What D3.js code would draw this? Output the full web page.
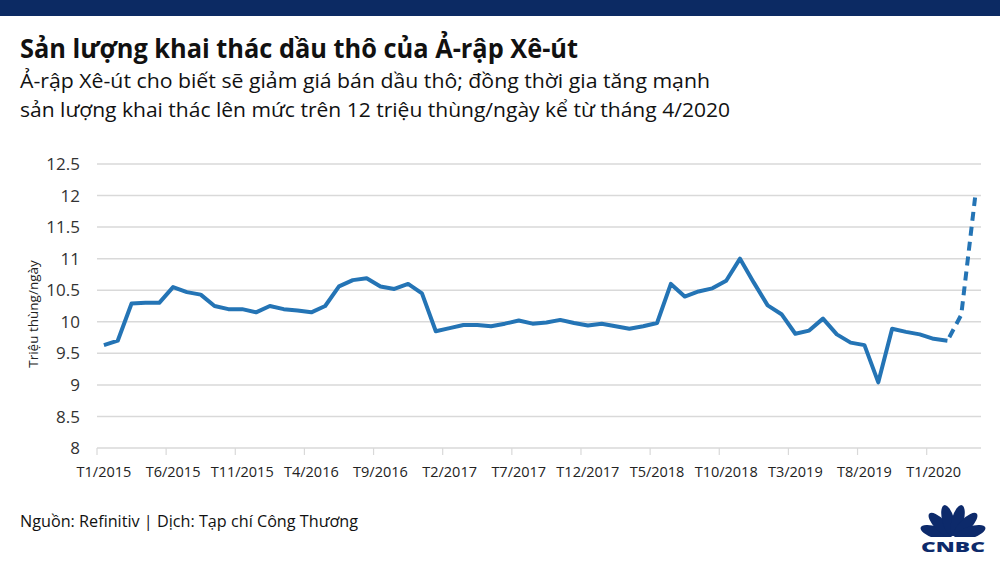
<!DOCTYPE html>
<html>
<head>
<meta charset="utf-8">
<script src="https://cdnjs.cloudflare.com/ajax/libs/d3/7.8.5/d3.min.js"></script>
<style>
  body { margin: 0; background: #fff; }
  text { font-family: "Open Sans", "Noto Sans", sans-serif; }
</style>
</head>
<body>
<div id="chart"></div>
<script>
// data: Saudi crude output, million barrels/day, T1/2015 .. T4/2020
var years = [2015, 2016, 2017, 2018, 2019, 2020];
var production = [
  9.63, 9.70, 10.29, 10.30, 10.30, 10.55, 10.47, 10.43, 10.25, 10.20, 10.20, 10.15,
  10.25, 10.20, 10.18, 10.15, 10.25, 10.56, 10.66, 10.69, 10.56, 10.52, 10.60, 10.45,
  9.85, 9.90, 9.95, 9.95, 9.93, 9.97, 10.02, 9.97, 9.99, 10.03, 9.98, 9.94,
  9.97, 9.93, 9.89, 9.93, 9.98, 10.60, 10.40, 10.48, 10.53, 10.65, 11.00, 10.62,
  10.26, 10.12, 9.81, 9.86, 10.05, 9.80, 9.67, 9.63, 9.04, 9.89, 9.84, 9.80,
  9.73, 9.70, 10.11, 11.97
];
var dashedFrom = "T3/2020";
var tickLabels = ["T1/2015", "T6/2015", "T11/2015", "T4/2016", "T9/2016", "T2/2017", "T7/2017",
                  "T12/2017", "T5/2018", "T10/2018", "T3/2019", "T8/2019", "T1/2020"];
var yTicks = [8, 8.5, 9, 9.5, 10, 10.5, 11, 11.5, 12, 12.5];

var months = [];
years.forEach(function(y) {
  for (var m = 1; m <= 12; m++) months.push("T" + m + "/" + y);
});
months = months.slice(0, production.length);

var data = months.map(function(m, i) { return {month: m, value: production[i]}; });

var width = 1000, height = 562;
var svg = d3.select("#chart").append("svg")
  .attr("width", width)
  .attr("height", height);

// top bar
svg.append("rect").attr("x", 0).attr("y", 0).attr("width", width).attr("height", 16)
  .attr("fill", "#0c2a63");

// titles
svg.append("text").attr("x", 20).attr("y", 58)
  .attr("font-size", 27).attr("font-weight", 700).attr("fill", "#111")
  .attr("textLength", 558).attr("lengthAdjust", "spacingAndGlyphs")
  .text("Sản lượng khai thác dầu thô của Ả-rập Xê-út");
svg.append("text").attr("x", 20).attr("y", 88)
  .attr("font-size", 20).attr("fill", "#111")
  .attr("textLength", 690).attr("lengthAdjust", "spacingAndGlyphs")
  .text("Ả-rập Xê-út cho biết sẽ giảm giá bán dầu thô; đồng thời gia tăng mạnh");
svg.append("text").attr("x", 20).attr("y", 117)
  .attr("font-size", 20).attr("fill", "#111")
  .attr("textLength", 710).attr("lengthAdjust", "spacingAndGlyphs")
  .text("sản lượng khai thác lên mức trên 12 triệu thùng/ngày kể từ tháng 4/2020");

// scales
var x = d3.scaleBand().domain(months).range([97, 982]).padding(0);
var y = d3.scaleLinear().domain([8, 12.5]).range([448, 164]);

// gridlines
svg.append("g").selectAll("line")
  .data(yTicks)
  .enter().append("line")
    .attr("x1", 97).attr("x2", 981)
    .attr("y1", function(d) { return y(d); })
    .attr("y2", function(d) { return y(d); })
    .attr("stroke", "#d9d9d9").attr("stroke-width", 1.5);

// y axis labels
svg.append("g").selectAll("text")
  .data(yTicks)
  .enter().append("text")
    .attr("x", 80)
    .attr("y", function(d) { return y(d); })
    .attr("dy", "0.36em")
    .attr("text-anchor", "end")
    .attr("font-size", 17).attr("fill", "#333")
    .text(function(d) { return d; });

svg.append("text")
  .attr("transform", "translate(38,314) rotate(-90)")
  .attr("text-anchor", "middle")
  .attr("font-size", 13.5).attr("fill", "#222")
  .text("Triệu thùng/ngày");

// x axis ticks and labels
var xAxis = svg.append("g");
xAxis.selectAll("line")
  .data(tickLabels)
  .enter().append("line")
    .attr("x1", function(d) { return x(d); })
    .attr("x2", function(d) { return x(d); })
    .attr("y1", y(8)).attr("y2", y(8) + 7)
    .attr("stroke", "#d9d9d9").attr("stroke-width", 1.2);
xAxis.selectAll("text")
  .data(tickLabels)
  .enter().append("text")
    .attr("x", function(d) { return x(d) + x.bandwidth() / 2; })
    .attr("y", 477)
    .attr("text-anchor", "middle")
    .attr("font-size", 14.5).attr("fill", "#222")
    .text(function(d) { return d; });

// line
var line = d3.line()
  .x(function(d) { return x(d.month) + x.bandwidth() / 2; })
  .y(function(d) { return y(d.value); });

var cut = months.indexOf(dashedFrom);
svg.append("path")
  .datum(data.slice(0, cut))
  .attr("d", line)
  .attr("fill", "none")
  .attr("stroke", "#2474b5").attr("stroke-width", 4)
  .attr("stroke-linejoin", "round");
svg.append("path")
  .datum(data.slice(cut - 1))
  .attr("d", line)
  .attr("fill", "none")
  .attr("stroke", "#2474b5").attr("stroke-width", 4)
  .attr("stroke-dasharray", "9,6")
  .attr("stroke-dashoffset", -4);

// source
svg.append("text").attr("x", 20).attr("y", 527)
  .attr("font-size", 17).attr("fill", "#111")
  .attr("textLength", 338).attr("lengthAdjust", "spacingAndGlyphs")
  .text("Nguồn: Refinitiv | Dịch: Tạp chí Công Thương");

// CNBC logo (simple peacock)
var logo = svg.append("g").attr("transform", "translate(953,538)").attr("fill", "#0d2a6b");
var angles = [-72, -44, -15, 15, 44, 72];
angles.forEach(function(a) {
  logo.append("ellipse")
    .attr("cx", 0).attr("cy", -18)
    .attr("rx", 6).attr("ry", 16)
    .attr("transform", "rotate(" + a + ",0,0)");
});
logo.append("rect").attr("x", -32).attr("y", -1).attr("width", 64).attr("height", 6).attr("fill", "#fff");
svg.append("text").attr("x", 953).attr("y", 552)
  .attr("text-anchor", "middle")
  .attr("font-family", "Liberation Sans, Arial, sans-serif")
  .attr("font-size", 14).attr("font-weight", 900).attr("fill", "#0d2a6b")
  .attr("textLength", 64).attr("lengthAdjust", "spacingAndGlyphs")
  .text("CNBC");
</script>
</body>
</html>
